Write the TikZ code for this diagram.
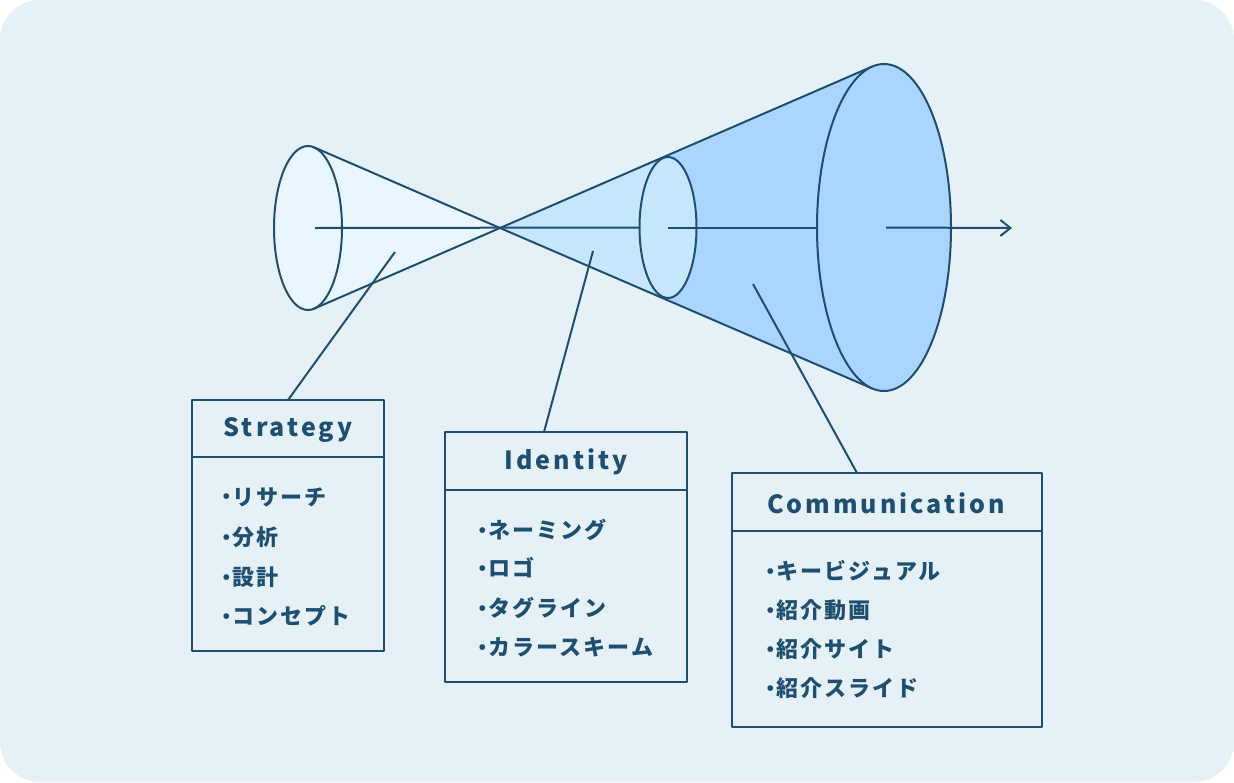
\documentclass[tikz,border=0pt]{standalone}
\usepackage{fontspec}
\usetikzlibrary{shapes.geometric,arrows.meta,calc}
\newfontfamily\titlefont{Noto Sans CJK JP}[LetterSpace=12]
\newfontfamily\itemfont{Noto Sans CJK JP}[LetterSpace=10]
\newfontfamily\dotfont{DejaVu Sans}
\definecolor{bgc}{HTML}{E6F0F7}
\definecolor{lc}{HTML}{1E4F70}
\definecolor{cone1}{HTML}{EAF6FE}
\definecolor{cone2}{HTML}{C6E6FD}
\definecolor{cone3}{HTML}{AAD6FD}
\newcommand{\bul}{\hbox to 11pt{\hss\raisebox{6.2pt}{\dotfont\fontsize{7.5}{8}\selectfont ●}\hss}}
\tikzset{
  rim/.style={ellipse, draw=lc, line width=2pt, inner sep=0pt, outer sep=0pt},
  infobox/.style={draw=lc, line width=2pt, rectangle, anchor=north west, inner sep=0pt, outer sep=0pt},
  titlest/.style={text=lc, font=\titlefont\bfseries\fontsize{25}{30}\selectfont, inner sep=0pt},
  itemst/.style={text=lc, font=\itemfont\bfseries\fontsize{22}{26}\selectfont, inner sep=0pt, anchor=west},
  conn/.style={draw=lc, line width=2pt}
}
\begin{document}
\begin{tikzpicture}[x=1pt,y=-1pt,line width=2pt,line join=round]
\useasboundingbox (0,0) rectangle (1234,782);
\fill[white] (0,0) rectangle (1234,782);
\fill[bgc, rounded corners=40pt] (0,0) rectangle (1234,782);

% key points
\coordinate (apex) at (500,228);
\coordinate (bt) at (872.3,66.5);
\coordinate (bb) at (872.3,388.5);
\coordinate (mt) at (663.2,158.5);
\coordinate (mb) at (663.2,297);
\coordinate (st) at (314,147.3);
\coordinate (sb) at (314,308.7);

% big cone
\fill[cone3] (apex) -- (bt) -- (bb) -- cycle;
\fill[cone2] (apex) -- (mt) -- (mb) -- cycle;
\draw[lc] (bt) -- (apex) -- (bb);
\node[rim, fill=cone3, minimum width=134pt, minimum height=327pt] (big) at (884,227.5) {};
\node[rim, fill=cone2, minimum width=57pt, minimum height=141pt] (mid) at (668,227.5) {};

% small cone
\fill[cone1] (apex) -- (st) -- (sb) -- cycle;
\node[rim, fill=cone1, minimum width=68pt, minimum height=164pt] (small) at (308,228) {};
\draw[lc] (st) -- (apex) -- (sb);

% axis
\coordinate (axstart) at (315,228);
\coordinate (arrowend) at (1012,228);
\draw[lc] (axstart) -- (mid.west);
\draw[lc] (mid.center) -- (big.west);
\draw[lc, -{Straight Barb[length=10pt,width=16pt,line width=2pt]}] ($(big.center)+(2,0)$) -- (arrowend);

% boxes
\node[infobox, minimum width=192pt, minimum height=251pt] (sbox) at (192,400) {};
\draw[lc] ($(sbox.north west)+(0,57)$) -- ($(sbox.north east)+(0,57)$);
\node[titlest] (stitle) at (288,430) {Strategy};
\node[itemst] (s1) at (220,497) {\bul リサーチ};
\node[itemst] (s2) at (220,537) {\bul 分析};
\node[itemst] (s3) at (220,577) {\bul 設計};
\node[itemst] (s4) at (220,616) {\bul コンセプト};

\node[infobox, minimum width=242pt, minimum height=250pt] (ibox) at (445,432) {};
\draw[lc] ($(ibox.north west)+(0,58)$) -- ($(ibox.north east)+(0,58)$);
\node[titlest] (ititle) at (566,462) {Identity};
\node[itemst] (i1) at (476,530) {\bul ネーミング};
\node[itemst] (i2) at (476,568) {\bul ロゴ};
\node[itemst] (i3) at (476,608) {\bul タグライン};
\node[itemst] (i4) at (476,647) {\bul カラースキーム};

\node[infobox, minimum width=310pt, minimum height=254pt] (cbox) at (732,473) {};
\draw[lc] ($(cbox.north west)+(0,58)$) -- ($(cbox.north east)+(0,58)$);
\node[titlest] (ctitle) at (886,503) {Communication};
\node[itemst] (c1) at (764,571) {\bul キービジュアル};
\node[itemst] (c2) at (764,610) {\bul 紹介動画};
\node[itemst] (c3) at (764,649) {\bul 紹介サイト};
\node[itemst] (c4) at (764,688) {\bul 紹介スライド};

% connectors
\coordinate (sp) at (395,252);
\coordinate (ip) at (593,251);
\coordinate (cp) at (753,284);
\coordinate (ib) at (544,432);
\coordinate (cb) at (857,473);
\draw[conn] (sp) -- (sbox.north);
\draw[conn] (ip) -- (ib);
\draw[conn] (cp) -- (cb);
\end{tikzpicture}
\end{document}
